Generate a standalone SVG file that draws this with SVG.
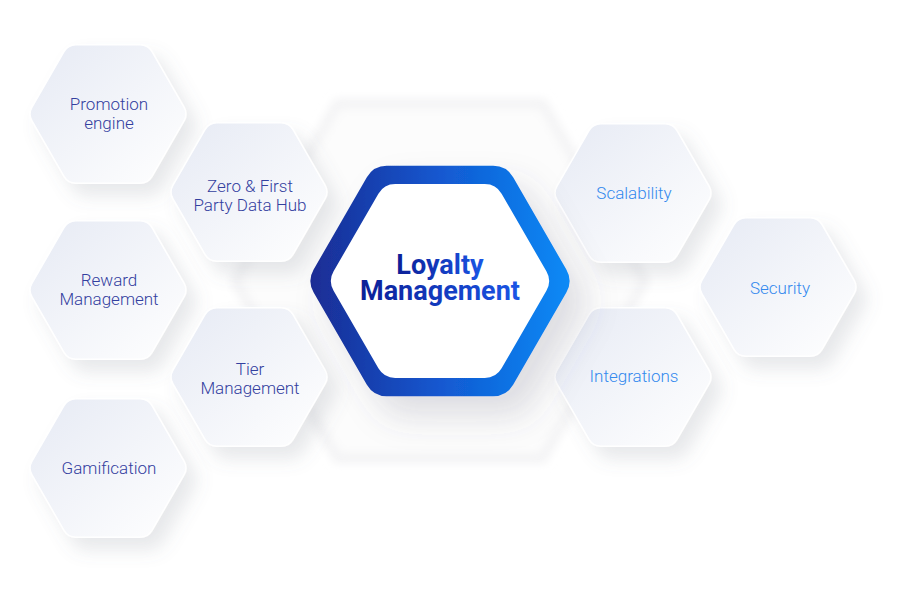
<svg xmlns="http://www.w3.org/2000/svg" width="900" height="600" viewBox="0 0 900 600">
  <defs>
    <path id="hex" d="M76,-6.93 Q80,0 76,6.93 L44,62.4 Q40,69.3 32,69.3 L-32,69.3 Q-40,69.3 -44,62.4 L-76,6.93 Q-80,0 -76,-6.93 L-44,-62.4 Q-40,-69.3 -32,-69.3 L32,-69.3 Q40,-69.3 44,-62.4 Z"/>
    <linearGradient id="gHex" x1="0" y1="0" x2="1" y2="1">
      <stop offset="0" stop-color="#e6eaf4"/>
      <stop offset="1" stop-color="#ffffff"/>
    </linearGradient>
    <linearGradient id="gRing" x1="0" y1="0" x2="1" y2="0">
      <stop offset="0" stop-color="#1b2c94"/>
      <stop offset="0.5" stop-color="#1358d0"/>
      <stop offset="1" stop-color="#0a8af6"/>
    </linearGradient>
    <linearGradient id="gTitle" x1="0" y1="0" x2="1" y2="0">
      <stop offset="0" stop-color="#0b1f96"/>
      <stop offset="1" stop-color="#1a56e6"/>
    </linearGradient>
    <filter id="blurHalo" x="-10%" y="-10%" width="120%" height="120%">
      <feGaussianBlur stdDeviation="5"/>
    </filter>
    <filter id="sh" x="-30%" y="-30%" width="180%" height="180%">
      <feDropShadow dx="10" dy="12" stdDeviation="9" flood-color="#6b7080" flood-opacity="0.16"/>
    </filter>
    <filter id="shC" x="-30%" y="-30%" width="170%" height="170%">
      <feDropShadow dx="10" dy="12" stdDeviation="10" flood-color="#50566a" flood-opacity="0.18"/>
    </filter>
    <style>
      .hx { fill: url(#gHex); stroke: #ffffff; stroke-width: 1.5; filter: url(#sh); }
      .lt { font-family: Roboto, "Liberation Sans", sans-serif; font-size: 17px; font-weight: 300; fill: #33409f; text-anchor: middle; }
      .rt { font-family: Roboto, "Liberation Sans", sans-serif; font-size: 17px; font-weight: 300; fill: #3389ee; text-anchor: middle; }
      .title { font-family: Roboto, "Liberation Sans", sans-serif; font-size: 27px; font-weight: 700; fill: url(#gTitle); text-anchor: middle; }
    </style>
  </defs>
  <rect width="900" height="600" fill="#ffffff"/>

  <g id="halo">
    <polygon points="650,281 545,462.9 335,462.9 230,281 335,99.1 545,99.1" fill="#f3f3f4" filter="url(#blurHalo)"/>
    <polygon points="640,281 540,454 340,454 240,281 340,108 540,108" fill="#fcfcfc" filter="url(#blurHalo)"/>
  </g>

  <g id="connectors"></g>

  <g id="promotion-engine">
    <use href="#hex" class="hx" transform="translate(108,114)"/>
    <text class="lt" x="109" y="110">Promotion</text>
    <text class="lt" x="109" y="129">engine</text>
  </g>
  <g id="reward-management">
    <use href="#hex" class="hx" transform="translate(108,290)"/>
    <text class="lt" x="109" y="286">Reward</text>
    <text class="lt" x="109" y="305">Management</text>
  </g>
  <g id="gamification">
    <use href="#hex" class="hx" transform="translate(108,468)"/>
    <text class="lt" x="109" y="474">Gamification</text>
  </g>
  <g id="zero-first-party">
    <use href="#hex" class="hx" transform="translate(249,192)"/>
    <text class="lt" x="250" y="192">Zero &amp; First</text>
    <text class="lt" x="250" y="211">Party Data Hub</text>
  </g>
  <g id="tier-management">
    <use href="#hex" class="hx" transform="translate(249,377)"/>
    <text class="lt" x="250" y="375">Tier</text>
    <text class="lt" x="250" y="394">Management</text>
  </g>
  <g id="scalability">
    <use href="#hex" class="hx" transform="translate(633,193)"/>
    <text class="rt" x="634" y="199">Scalability</text>
  </g>
  <g id="security">
    <use href="#hex" class="hx" transform="translate(778,287)"/>
    <text class="rt" x="780" y="294">Security</text>
  </g>
  <g id="integrations">
    <use href="#hex" class="hx" transform="translate(633,377)"/>
    <text class="rt" x="634" y="382">Integrations</text>
  </g>

  <g id="loyalty-management">
    <use href="#hex" transform="translate(440,281) scale(1.6625)" fill="url(#gRing)" filter="url(#shC)"/>
    <use href="#hex" transform="translate(440,281) scale(1.4)" fill="#ffffff"/>
    <text class="title" x="440" y="274">Loyalty</text>
    <text class="title" x="440" y="300">Management</text>
  </g>
</svg>
